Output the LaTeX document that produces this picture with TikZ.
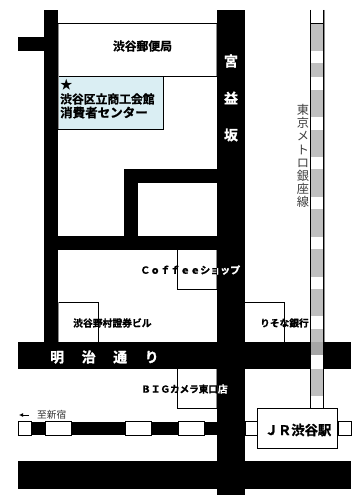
\documentclass[tikz,border=0pt]{standalone}
\usepackage{fontspec}
\usetikzlibrary{arrows.meta}
\newfontfamily\cjk{Noto Sans CJK JP}[BoldFont={Noto Sans CJK JP Bold},BoldFeatures={FakeBold=1.2}]
\newcommand{\fs}[1]{\fontsize{#1}{#1}\selectfont}
\definecolor{pale}{HTML}{DAEEF3}
\tikzset{
  road/.style={fill=black,draw=none},
  edge/.style={draw=black,line width=0.8pt},
  soft/.style={draw=black!45,line width=0.7pt},
  lbl/.style={inner sep=0pt,font=\cjk\bfseries\fs{9.6}},
  whitebox/.style={fill=white,draw=black,line width=0.7pt},
  stripe/.style={fill=black!25,draw=none}
}
\begin{document}
\begin{tikzpicture}[x=1pt,y=-1pt]
\useasboundingbox (0,0) rectangle (357,495);
\fill[white] (0,0) rectangle (357,495);
% blue building and outlines
\fill[pale] (58,76) rectangle (163.5,129);
\draw[edge] (58,23.5) -- (217,23.5);
\draw[edge] (58,76) -- (217,76);
\draw[edge] (58,129) -- (164,129);
\draw[edge] (163.5,76) -- (163.5,130);
\draw[soft] (58.3,24) -- (58.3,129);
\draw[soft] (216.7,24) -- (216.7,76);
\draw[edge] (124,169) -- (217,169);
% shop outlines
\draw[edge] (177.5,250) -- (177.5,289) -- (217,289);
\draw[soft] (216.7,250) -- (216.7,289);
\draw[edge] (58,302) -- (98,302) -- (98,342);
\draw[soft] (58.3,302) -- (58.3,342);
\draw[edge] (245,302) -- (284,302) -- (284,342);
\draw[edge] (177.5,369) -- (177.5,408) -- (217,408);
\draw[soft] (216.7,369) -- (216.7,408);
% subway
\foreach \a/\b in {24/51,63/77,90/117,130/157,169/197,209/237,249/277,289/316,329/342,369/396}
  \fill[stripe] (310.5,\a) rectangle (323,\b);
% roads
\fill[road] (44,10) rectangle (58,342);
\fill[road] (18,37) rectangle (44,51);
\fill[road] (217,10) rectangle (245,495);
\fill[road] (58,236) rectangle (217,250);
\fill[road] (124,169) rectangle (217,183);
\fill[road] (124,169) rectangle (138,236);
\fill[road] (18,342) rectangle (351,369);
\fill[road] (18,461) rectangle (351,489);
\fill[road] (18,421.5) rectangle (217,435);
\fill[black!35] (310.5,342) rectangle (323,355);
\fill[white] (310.5,355) rectangle (323,369);
\draw[edge] (310.5,10) -- (310.5,408);
\draw[edge] (323.5,10) -- (323.5,408);
\draw[soft] (324.4,10) -- (324.4,342);
\draw[edge] (310.5,23.5) -- (323.5,23.5);
% rail openings
\foreach \a/\b in {18/31,45/71,125/151,178/204,245/258,338/351}
  \draw[whitebox] (\a,421.7) rectangle (\b,435.2);
% station
\node[whitebox,minimum width=80pt,minimum height=40pt,inner sep=0pt,line width=0.9pt] (jr) at (297,428) {};
\node[lbl,font=\cjk\bfseries\fs{13.3}] (jrlabel) at (298,430) {ＪＲ渋谷駅};
% labels
\node[lbl,font=\cjk\bfseries\fs{11.8}] (post) at (142.5,46) {渋谷郵便局};
\node[lbl,font=\cjk\fs{12.5},anchor=west] (star) at (60,84.5) {★};
\node[lbl,font=\cjk\bfseries\fs{11.8},anchor=west] (kaikan) at (60,99) {渋谷区立商工会館};
\node[lbl,font=\cjk\bfseries\fs{12.5},anchor=west] (center) at (60,112.5) {消費者センター};
\node[lbl,white,font=\cjk\bfseries\fs{14}] (miya) at (231,61) {宮};
\node[lbl,white,font=\cjk\bfseries\fs{14}] (eki) at (231,98) {益};
\node[lbl,white,font=\cjk\bfseries\fs{14}] (saka) at (231,135) {坂};
\node[inner sep=0pt,align=center,text=black!75,font=\cjk\fs{12.2}] (metro) at (303,156)
  {東\\[1pt]京\\[1pt]メ\\[1pt]ト\\[1pt]ロ\\[1pt]銀\\[1pt]座\\[1pt]線};
\node[lbl,font=\cjk\bfseries\fs{9.8},anchor=west] (nomura) at (73,323) {渋谷野村證券ビル};
\node[lbl,font=\cjk\bfseries\fs{9.7},anchor=west] (risona) at (260,323) {りそな銀行};
\node[lbl,white,font=\cjk\bfseries\fs{14},anchor=west] (meiji) at (50,357)
  {明\hspace{17.5pt}治\hspace{17.5pt}通\hspace{17.5pt}り};
\node[inner sep=0pt,anchor=west,text=black!80,font=\cjk\fs{9.7}] (shinjuku) at (37,415) {至新宿};
\coordinate (arrowend) at (19,415);
\coordinate (arrowstart) at (29,415);
\draw[-{Latex[length=4pt,width=4pt]},line width=1pt] (arrowstart) -- (arrowend);
% labels that cross the road: black, then white on the road
\node[lbl,font=\cjk\bfseries\fs{10},anchor=west] (coffee) at (140,270) {Ｃｏｆｆｅｅショップ};
\node[lbl,font=\cjk\bfseries\fs{9.6},anchor=west] (big) at (141,389) {ＢＩＧカメラ東口店};
\begin{scope}
\clip (217,255) rectangle (245,400);
\node[lbl,white,font=\cjk\bfseries\fs{10},anchor=west] (coffeew) at (140,270) {Ｃｏｆｆｅｅショップ};
\node[lbl,white,font=\cjk\bfseries\fs{9.6},anchor=west] (bigw) at (141,389) {ＢＩＧカメラ東口店};
\end{scope}
\end{tikzpicture}
\end{document}
